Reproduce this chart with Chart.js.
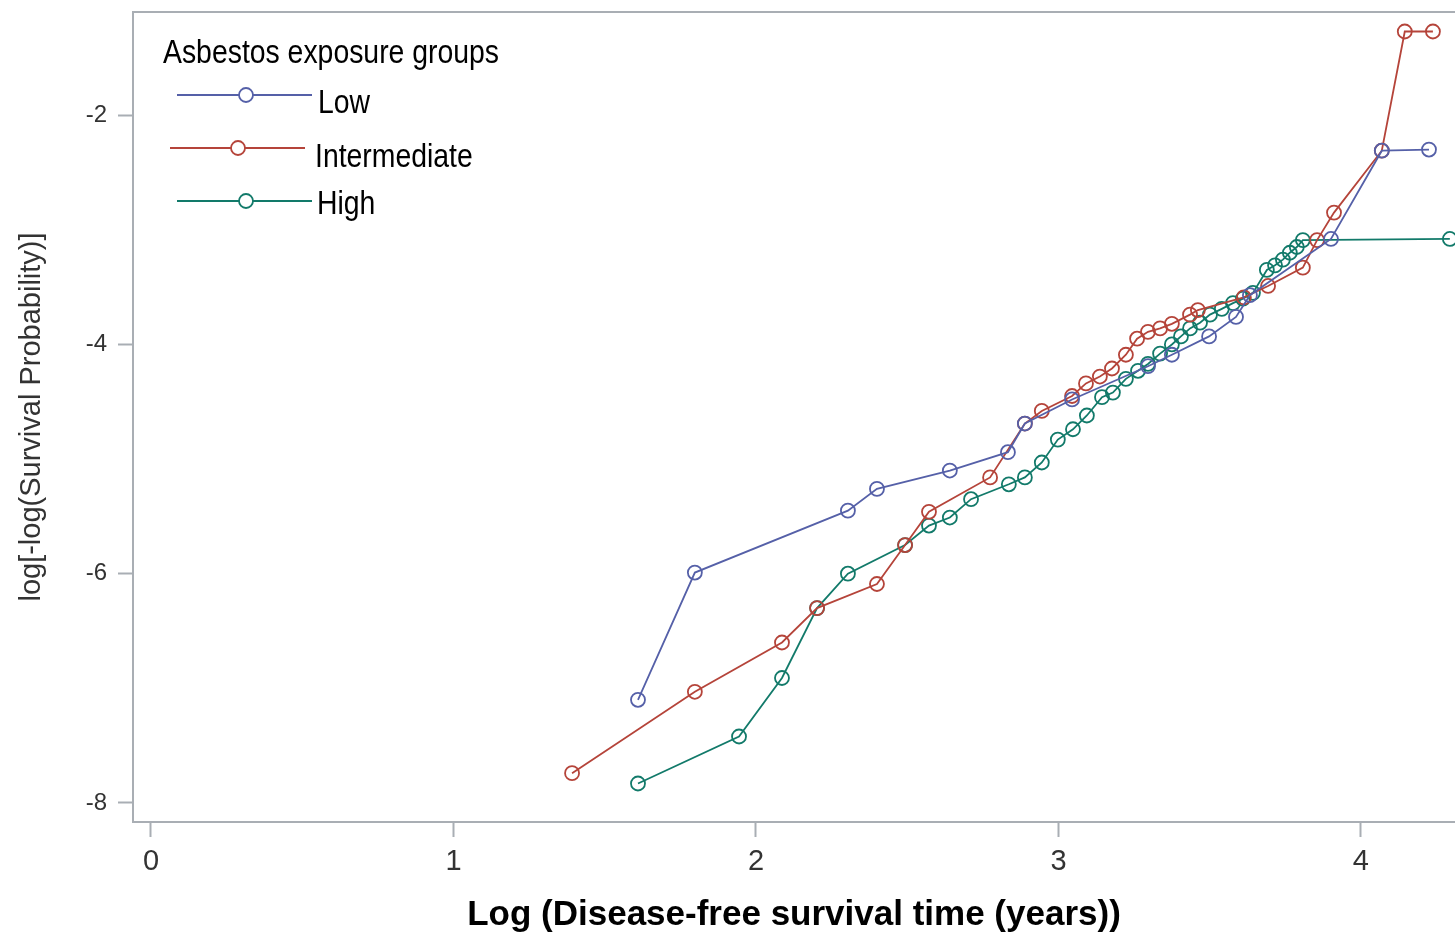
<!DOCTYPE html>
<html>
<head>
<meta charset="utf-8">
<title>log-log survival by asbestos exposure</title>
<script src="https://cdn.jsdelivr.net/npm/chart.js@4/dist/chart.umd.min.js"></script>
<style>
  body { margin: 0; background: #fff; }
  canvas { display: block; }
</style>
</head>
<body>
<canvas id="llsChart" width="1455" height="938"></canvas>
<script>
// values: x = log(time), y = log(-log S)
const lowX = [1.610, 1.798, 2.304, 2.400, 2.641, 2.833, 2.889, 3.045, 3.296, 3.375, 3.498, 3.587, 3.633, 3.901, 4.069, 4.225];
const lowY = [-7.10, -5.99, -5.45, -5.26, -5.10, -4.94, -4.69, -4.48, -4.19, -4.09, -3.93, -3.76, -3.57, -3.08, -2.31, -2.30];

const intX = [1.392, 1.798, 2.086, 2.202, 2.400, 2.493, 2.572, 2.774, 2.889, 2.945, 3.045, 3.091, 3.137, 3.177, 3.223, 3.260, 3.296, 3.336, 3.375, 3.435, 3.461, 3.613, 3.693, 3.808, 3.855, 3.911, 4.069, 4.145, 4.238];
const intY = [-7.74, -7.03, -6.60, -6.30, -6.09, -5.75, -5.46, -5.16, -4.69, -4.58, -4.45, -4.34, -4.28, -4.21, -4.09, -3.95, -3.89, -3.86, -3.82, -3.74, -3.70, -3.59, -3.49, -3.33, -3.09, -2.85, -2.31, -1.27, -1.27];

const highX = [1.610, 1.944, 2.086, 2.202, 2.304, 2.493, 2.572, 2.641, 2.711, 2.836, 2.889, 2.945, 2.998, 3.048, 3.094, 3.144, 3.180, 3.223, 3.263, 3.296, 3.336, 3.375, 3.405, 3.435, 3.468, 3.501, 3.540, 3.577, 3.610, 3.643, 3.689, 3.716, 3.742, 3.765, 3.788, 3.808, 4.294];
const highY = [-7.83, -7.42, -6.91, -6.30, -6.00, -5.75, -5.58, -5.51, -5.35, -5.22, -5.16, -5.03, -4.83, -4.74, -4.62, -4.46, -4.42, -4.30, -4.23, -4.17, -4.08, -4.00, -3.93, -3.86, -3.81, -3.74, -3.69, -3.64, -3.60, -3.55, -3.35, -3.31, -3.26, -3.20, -3.15, -3.09, -3.08];

const groupNames = ["Low", "Intermediate", "High"];
const xTicks = [0, 1, 2, 3, 4];
const yTicks = [-8, -6, -4, -2];

const colors = ["#5560a8", "#b5443a", "#127a6a"];
const axisGrey = "#a9aeb4";
const fontFamily = '"Liberation Sans", Arial, sans-serif';

function toPoints(xs, ys) {
  return xs.map((x, i) => ({ x: x, y: ys[i] }));
}

function series(name, xs, ys, color) {
  return {
    label: name,
    data: toPoints(xs, ys),
    borderColor: color,
    backgroundColor: "transparent",
    borderWidth: 1.8,
    pointRadius: 7,
    pointBorderWidth: 1.8,
    pointBackgroundColor: "transparent",
    pointBorderColor: color,
    tension: 0,
  };
}

// scales add padding for edge labels; the ticks here are not on the edges
function noEdgePadding(scale) {
  scale.paddingTop = 0;
  scale.paddingBottom = 0;
  scale.paddingLeft = 0;
  scale.paddingRight = 0;
}

// box line on top of the plot + legend inside the plot area
const frameAndLegend = {
  id: "frameAndLegend",
  afterDraw(chart) {
    const ctx = chart.ctx;
    const area = chart.chartArea;
    ctx.save();
    ctx.strokeStyle = axisGrey;
    ctx.lineWidth = 2;
    ctx.beginPath();
    ctx.moveTo(area.left, area.top);
    ctx.lineTo(area.right, area.top);
    ctx.stroke();

    ctx.fillStyle = "#000";
    ctx.font = "33px " + fontFamily;
    ctx.textBaseline = "alphabetic";
    ctx.save();
    ctx.translate(163, 63);
    ctx.scale(0.86, 1);
    ctx.fillText("Asbestos exposure groups", 0, 0);
    ctx.restore();

    const rows = [
      { x0: 177, x1: 312, y: 95, cx: 246, tx: 318, ty: 113 },
      { x0: 170, x1: 305, y: 148, cx: 238, tx: 315, ty: 167 },
      { x0: 177, x1: 312, y: 201, cx: 246, tx: 317, ty: 214 },
    ];
    chart.data.datasets.forEach((ds, i) => {
      const r = rows[i];
      ctx.strokeStyle = ds.borderColor;
      ctx.lineWidth = 1.8;
      ctx.beginPath();
      ctx.moveTo(r.x0, r.y);
      ctx.lineTo(r.x1, r.y);
      ctx.stroke();
      ctx.beginPath();
      ctx.arc(r.cx, r.y, 7, 0, Math.PI * 2);
      ctx.fillStyle = "#fff";
      ctx.fill();
      ctx.stroke();
      ctx.fillStyle = "#000";
      ctx.save();
      ctx.translate(r.tx, r.ty);
      ctx.scale(0.86, 1);
      ctx.fillText(ds.label, 0, 0);
      ctx.restore();
    });
    ctx.restore();
  },
};

const ctx = document.getElementById("llsChart").getContext("2d");
const llsChart = new Chart(ctx, {
  type: "line",
  data: {
    datasets: [
      series(groupNames[0], lowX, lowY, colors[0]),
      series(groupNames[1], intX, intY, colors[1]),
      series(groupNames[2], highX, highY, colors[2]),
    ],
  },
  options: {
    responsive: false,
    animation: false,
    layout: { autoPadding: false, padding: { top: 12, right: 0, bottom: 0, left: 0 } },
    plugins: {
      legend: { display: false },
      tooltip: { enabled: false },
    },
    scales: {
      x: {
        type: "linear",
        min: -0.0595,
        max: 4.311,
        afterBuildTicks: (scale) => {
          scale.ticks = xTicks.map((v) => ({ value: v }));
        },
        afterFit: (scale) => {
          scale.height = 116;
          noEdgePadding(scale);
        },
        border: { color: axisGrey, width: 2 },
        grid: {
          display: true,
          drawOnChartArea: false,
          drawTicks: true,
          tickLength: 15,
          tickWidth: 2,
          color: axisGrey,
        },
        ticks: {
          padding: 8,
          color: "#333",
          font: { family: fontFamily, size: 29 },
          callback: (v) => String(v),
        },
        title: {
          display: true,
          text: "Log (Disease-free survival time (years))",
          color: "#000",
          font: { family: fontFamily, size: 35, weight: "bold" },
          padding: { top: 0, bottom: 2 },
        },
      },
      y: {
        type: "linear",
        min: -8.166,
        max: -1.10,
        afterBuildTicks: (scale) => {
          scale.ticks = yTicks.map((v) => ({ value: v }));
        },
        afterFit: (scale) => {
          scale.width = 133;
          noEdgePadding(scale);
        },
        border: { color: axisGrey, width: 2 },
        grid: {
          display: true,
          drawOnChartArea: false,
          drawTicks: true,
          tickLength: 15,
          tickWidth: 2,
          color: axisGrey,
        },
        ticks: {
          padding: 11,
          color: "#333",
          font: { family: fontFamily, size: 24 },
          callback: (v) => String(v),
        },
        title: {
          display: true,
          text: "log[-log(Survival Probability)]",
          color: "#333",
          font: { family: fontFamily, size: 29 },
          padding: { top: 15, bottom: 0 },
        },
      },
    },
  },
  plugins: [frameAndLegend],
});
</script>
</body>
</html>
